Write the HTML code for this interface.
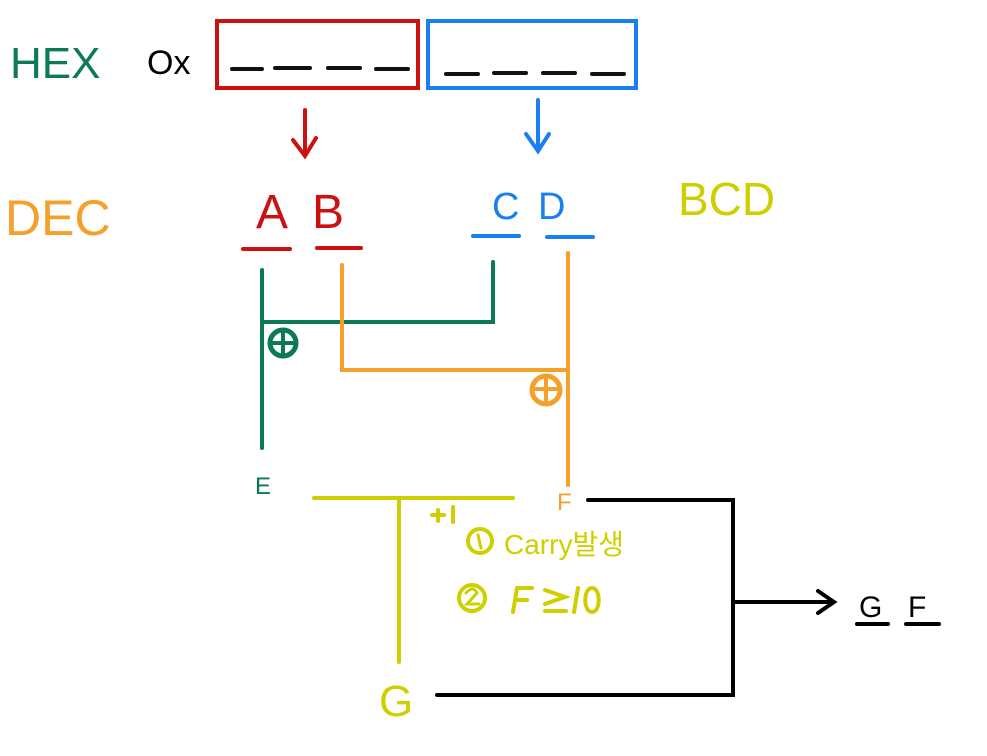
<!DOCTYPE html>
<html><head><meta charset="utf-8"><style>html,body{margin:0;padding:0;background:#fff}svg{display:block}</style></head>
<body>
<svg width="987" height="756" viewBox="0 0 987 756" xmlns="http://www.w3.org/2000/svg" font-family="Liberation Sans, Noto Sans CJK KR, sans-serif">
<g stroke-linecap="round" fill="none">
<text x="10" y="78" font-size="44" fill="#0b7a55" stroke="none">HEX</text>
<text x="147" y="74" font-size="34" fill="#000" stroke="none">Ox</text>
<rect x="217" y="21" width="201" height="67" stroke="#cc1111" stroke-width="4"/>
<path d="M232 69H262M275 68H310M328 68H360M376 69H408" stroke="#111" stroke-width="4"/>
<rect x="428" y="21" width="208" height="67" stroke="#1a7ff0" stroke-width="4"/>
<path d="M446 74H478M494 73H526M543 73H575M592 74H624" stroke="#111" stroke-width="4"/>
<path d="M305 110V155M293 140L305 156L316 138" stroke="#cc1111" stroke-width="4"/>
<path d="M538 100V150M526 134L538 151L549 134" stroke="#1a7ff0" stroke-width="4"/>
<text x="5" y="235" font-size="50" fill="#f5a02a" stroke="none">DEC</text>
<text x="256" y="228" font-size="48" fill="#cc1111" stroke="none">A</text>
<text x="312" y="228" font-size="48" fill="#cc1111" stroke="none">B</text>
<path d="M243 249H290M317 248H361" stroke="#cc1111" stroke-width="4"/>
<text x="492" y="219" font-size="38" fill="#1a7ff0" stroke="none">C</text>
<text x="538" y="219" font-size="38" fill="#1a7ff0" stroke="none">D</text>
<path d="M473 236H519M547 237H593" stroke="#1a7ff0" stroke-width="4"/>
<text x="678" y="215" font-size="46" fill="#cfcf00" stroke="none">BCD</text>
<path d="M262 270V448M262 322H493V262" stroke="#0b7a55" stroke-width="4"/>
<circle cx="283" cy="343" r="13" stroke="#0b7a55" stroke-width="5"/>
<path d="M273 343H293M283 333V353" stroke="#0b7a55" stroke-width="4"/>
<path d="M342 265V370H568M568 253V485" stroke="#f5a02a" stroke-width="4"/>
<circle cx="546" cy="390" r="14" stroke="#f5a02a" stroke-width="5"/>
<path d="M535 389H556M546 379V400" stroke="#f5a02a" stroke-width="4"/>
<text x="255" y="494" font-size="24" fill="#0b7a55" stroke="none">E</text>
<text x="557" y="510" font-size="24" fill="#f5a02a" stroke="none">F</text>
<path d="M314 498H513M399 499V662" stroke="#cfcf00" stroke-width="4"/>
<text x="379" y="716" font-size="44" fill="#cfcf00" stroke="none">G</text>
<path d="M432 515H444M438 510V521M453 507V522" stroke="#cfcf00" stroke-width="4"/>
<circle cx="480" cy="541" r="12" stroke="#cfcf00" stroke-width="4"/>
<path d="M478 535L481 548" stroke="#cfcf00" stroke-width="3"/>
<text x="504" y="554" font-size="28" fill="#cfcf00" stroke="none">Carry발생</text>
<circle cx="472" cy="598" r="13" stroke="#cfcf00" stroke-width="4"/>
<path d="M466 593Q473 585 477 593L467 604H479" stroke="#cfcf00" stroke-width="3"/>
<path d="M517 588L513 612M518 588H532M515 600H527M545 590L565 597L545 604M545 611H566M578 588L574 612M592 588C583 588 583 612 592 612C601 612 601 588 592 588" stroke="#cfcf00" stroke-width="4"/>
<path d="M588 500H733V695H437M733 602H832M818 591L834 602L818 613" stroke="#000" stroke-width="4"/>
<text x="859" y="617" font-size="30" fill="#000" stroke="none">G</text>
<text x="908" y="617" font-size="30" fill="#000" stroke="none">F</text>
<path d="M857 624H888M906 624H939" stroke="#000" stroke-width="4"/>
</g>
</svg>
</body></html>
